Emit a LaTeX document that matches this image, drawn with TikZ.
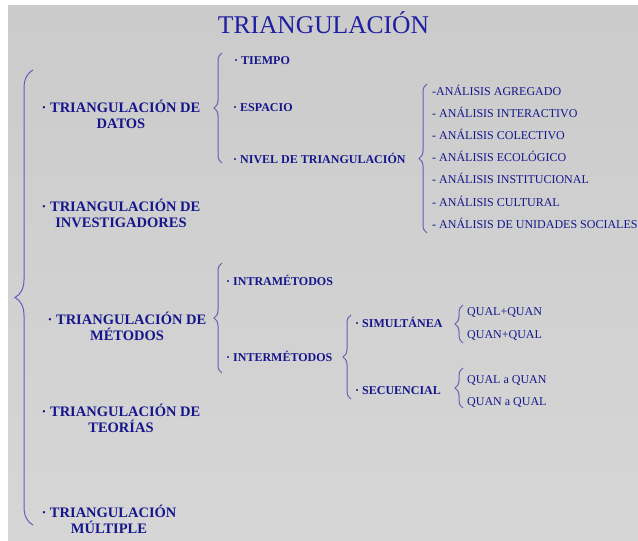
\documentclass[tikz,border=0pt]{standalone}
\usepackage{fontspec}
\setmainfont{Liberation Serif}
\usetikzlibrary{decorations.pathreplacing}
\definecolor{txt}{RGB}{22,22,140}
\definecolor{ttl}{RGB}{30,30,160}
\definecolor{brc}{RGB}{95,95,185}
\definecolor{bgtop}{RGB}{203,203,203}
\definecolor{bgbot}{RGB}{214,214,214}
\begin{document}
\begin{tikzpicture}[x=1pt,y=-1pt,
  title/.style={font=\fontsize{25.5}{28}\selectfont, text=ttl, anchor=base, inner sep=0pt},
  main/.style={font=\fontsize{14.5}{16}\selectfont\bfseries, text=txt, align=center, anchor=base, inner sep=0pt},
  sub/.style={font=\fontsize{12}{14}\selectfont\bfseries, text=txt, anchor=base west, inner sep=0pt},
  leaf/.style={font=\fontsize{12}{14}\selectfont, text=txt, anchor=base west, inner sep=0pt},
  brc/.style={draw=brc, line width=1pt, decorate, decoration={brace, amplitude=#1}},
  brc/.default=8pt
]
\useasboundingbox (0,0) rectangle (638,541);
\fill[white] (0,0) rectangle (638,541);
\shade[top color=bgtop, middle color=white, bottom color=bgbot] (8,5) rectangle (638,541);

% title
\node[title] (ttl) at (323.5,33) {TRIANGULACIÓN};

% main items (base anchor = baseline of the last line)
\node[main] (datos) at (121,128) {· TRIANGULACIÓN DE\\DATOS};
\node[main] (inv) at (121,227) {· TRIANGULACIÓN DE\\INVESTIGADORES};
\node[main] (met) at (127,340) {· TRIANGULACIÓN DE\\MÉTODOS};
\node[main] (teo) at (121,432) {· TRIANGULACIÓN DE\\TEORÍAS};
\node[main] (mul) at (109,533) {· TRIANGULACIÓN\\MÚLTIPLE};

% datos sub items
\node[sub] (tiempo) at (234,64) {· TIEMPO};
\node[sub] (espacio) at (233,111) {· ESPACIO};
\node[sub] (nivel) at (233,163) {· NIVEL DE TRIANGULACIÓN};

% analisis items
\node[leaf] (a1) at (432,95) {-ANÁLISIS AGREGADO};
\node[leaf] (a2) at (432,117.2) {- ANÁLISIS INTERACTIVO};
\node[leaf] (a3) at (432,139.4) {- ANÁLISIS COLECTIVO};
\node[leaf] (a4) at (432,161.6) {- ANÁLISIS ECOLÓGICO};
\node[leaf] (a5) at (432,183.8) {- ANÁLISIS INSTITUCIONAL};
\node[leaf] (a6) at (432,206) {- ANÁLISIS CULTURAL};
\node[leaf] (a7) at (432,228) {- ANÁLISIS DE UNIDADES SOCIALES};

% metodos sub items
\node[sub] (intra) at (226,285) {· INTRAMÉTODOS};
\node[sub] (inter) at (226,361) {· INTERMÉTODOS};
\node[sub] (sim) at (355,327) {· SIMULTÁNEA};
\node[sub] (sec) at (355,394) {· SECUENCIAL};

\node[leaf] (q1) at (467,315) {QUAL+QUAN};
\node[leaf] (q2) at (467,338) {QUAN+QUAL};
\node[leaf] (q3) at (467,383) {QUAL a QUAN};
\node[leaf] (q4) at (467,405) {QUAN a QUAL};

% brace end points
\coordinate (mainT) at (33,70);   \coordinate (mainB) at (33,525);
\coordinate (datT) at (222,53);   \coordinate (datB) at (222,163);
\coordinate (anaT) at (427,84);   \coordinate (anaB) at (427,233);
\coordinate (metT) at (222,263);  \coordinate (metB) at (222,373);
\coordinate (intT) at (351,315);  \coordinate (intB) at (351,399);
\coordinate (simT) at (463,305);  \coordinate (simB) at (463,343);
\coordinate (secT) at (463,368);  \coordinate (secB) at (463,408);

\draw[brc=18pt] (mainB) -- (mainT);
\draw[brc] (datB) -- (datT);
\draw[brc] (anaB) -- (anaT);
\draw[brc] (metB) -- (metT);
\draw[brc] (intB) -- (intT);
\draw[brc] (simB) -- (simT);
\draw[brc] (secB) -- (secT);
\end{tikzpicture}
\end{document}
